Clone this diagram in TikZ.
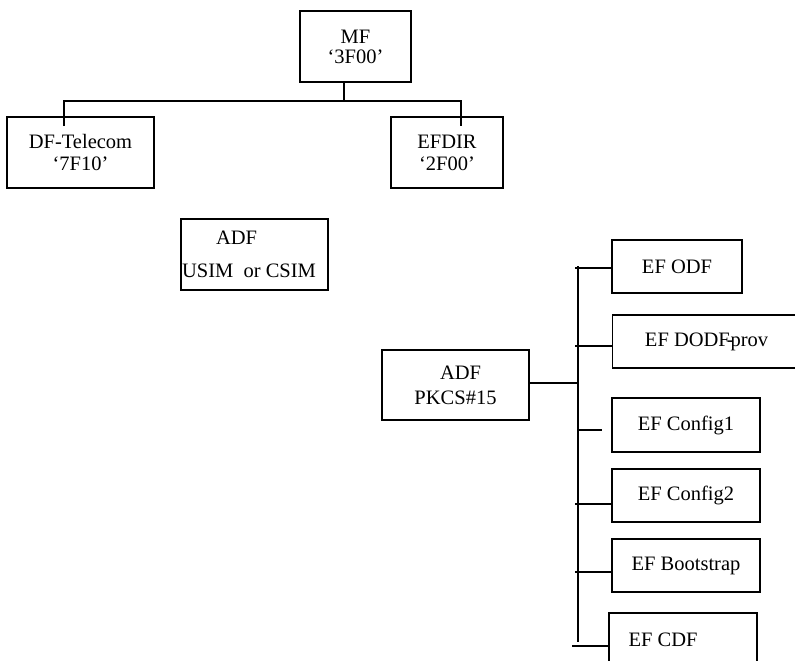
\documentclass[tikz,border=0pt]{standalone}
\usepackage{fontspec}
\setmainfont{Liberation Serif}
\begin{document}
\begin{tikzpicture}[x=1pt,y=-1pt,
  box/.style={draw, line width=1.2pt, inner sep=0pt, align=center,
    font=\fontsize{20.5}{21}\selectfont},
  tree/.style={line width=1.8pt},
  twig/.style={line width=1.2pt}]
\useasboundingbox (0,0) rectangle (795,661);
\clip (0,0) rectangle (795,661);
% top tree
\node[box, minimum width=111pt, minimum height=71pt, font=\fontsize{20.5}{20}\selectfont] (mf) at (355.5,46.5) {MF\\‘3F00’};
\node[box, minimum width=147pt, minimum height=71pt, font=\fontsize{20.5}{22}\selectfont] (df) at (80.5,152.5) {DF-Telecom\\‘7F10’};
\node[box, minimum width=112pt, minimum height=71pt, font=\fontsize{20.5}{22}\selectfont] (efdir) at (447,152.5) {EFDIR\\‘2F00’};
\coordinate (mfj) at (344,101);
\coordinate (dfin) at (64,126);
\coordinate (dirin) at (461,126);
\draw[tree] (mfj |- mf.south) -- (mfj);
\draw[tree] (dfin) -- (dfin |- mfj) -- (dirin |- mfj) -- (dirin);
% USIM
\node[box, minimum width=147pt, minimum height=71pt, align=left, font=\fontsize{20.5}{22}\selectfont] (usim) at (254.5,254.5)
  {\raisebox{-3pt}{\hspace*{34pt}ADF}\\[11pt]\raisebox{-3pt}{USIM\ \ or CSIM}\hspace*{11pt}};
% PKCS tree
\node[box, minimum width=147pt, minimum height=70pt, font=\fontsize{20.5}{25}\selectfont] (pkcs) at (455.5,385) {\hspace*{10pt}ADF\\PKCS\#15};
\node[box, minimum width=130pt, minimum height=53pt] (odf) at (677,266.5) {EF ODF};
\node[box, minimum width=188pt, minimum height=53pt, anchor=west] (dodf) at (612,341.5) {EF DODF\kern-3pt-\kern-3pt prov};
\node[box, minimum width=148pt, minimum height=54pt] (cfg1) at (686,425) {EF Config1};
\node[box, minimum width=148pt, minimum height=53pt] (cfg2) at (686,495.5) {EF Config2};
\node[box, minimum width=148pt, minimum height=53pt] (boot) at (686,565.5) {EF Bootstrap};
\node[box, minimum width=148pt, minimum height=53pt] (cdf) at (683,639.5) {\raisebox{-6pt}{EF CDF}\hspace*{40pt}};
\coordinate (ttop) at (578,266);
\coordinate (tbot) at (578,642);
\draw[tree] (pkcs.east |- 0,383) -- (ttop |- 0,383);
\draw[tree] (ttop) -- (tbot);
\draw[twig] (575,268) -- (odf.west |- 0,268);
\draw[twig] (575,346) -- (dodf.west |- 0,346);
\coordinate (c1end) at (602,430);
\draw[tree] (ttop |- c1end) -- (c1end);
\draw[twig] (575,504) -- (cfg2.west |- 0,504);
\draw[twig] (575,572) -- (boot.west |- 0,572);
\draw[twig] (572,646) -- (cdf.west |- 0,646);
\end{tikzpicture}
\end{document}
